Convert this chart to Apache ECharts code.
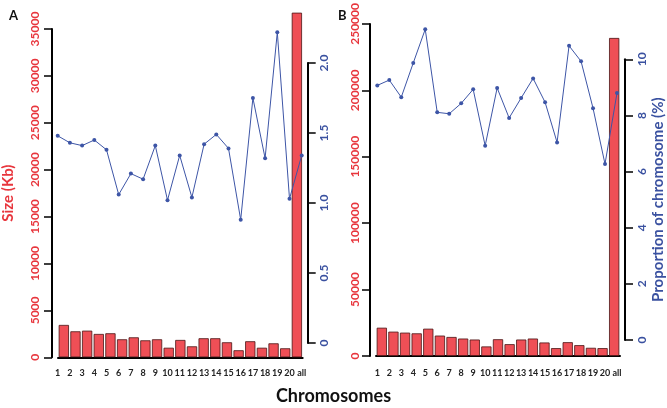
<!DOCTYPE html>
<html><head><meta charset="utf-8">
<script src="https://cdn.jsdelivr.net/npm/echarts@6/dist/echarts.min.js"></script>
<style>html,body{margin:0;padding:0;background:#fff}#c{width:667px;height:408px}</style>
</head><body><div id="c"></div>
<script>
const categories = ['1','2','3','4','5','6','7','8','9','10','11','12','13','14','15','16','17','18','19','20','all'];
const sizeA = [3450, 2770, 2840, 2490, 2560, 1920, 2130, 1810, 1920, 1020, 1850, 1170, 2030, 2030, 1600, 750, 1710, 1020, 1490, 960, 36740];
const propA = [1.48, 1.43, 1.41, 1.45, 1.38, 1.06, 1.21, 1.17, 1.41, 1.02, 1.34, 1.04, 1.42, 1.49, 1.39, 0.88, 1.75, 1.32, 2.22, 1.03, 1.34];
const sizeB = [21290, 18320, 17580, 17060, 20550, 15360, 14320, 13130, 12390, 7200, 12610, 8900, 12390, 13130, 10160, 5930, 10390, 8160, 6160, 5930, 239400];
const propB = [9.07, 9.26, 8.65, 9.87, 11.07, 8.11, 8.06, 8.43, 8.93, 6.92, 8.98, 7.91, 8.62, 9.32, 8.47, 7.04, 10.48, 9.93, 8.26, 6.27, 8.80];
const ticksA = {max: 35000, interval: 5000};
const ticksAR = {max: 2.0, interval: 0.5};
const ticksB = {max: 250000, interval: 50000};
const ticksBR = {max: 10, interval: 2};

const RED = '#e8363d', BLUE = '#3a51a0', BAR = '#ef4f56', LINE = '#3d55a6';
const FONT = 'Lato';
const axLine = {show: true, lineStyle: {color: '#000', width: 2}};
const tick = {show: true, length: 8, lineStyle: {color: '#000', width: 1.5}};

function barX(grid) {
  return {type: 'category', gridIndex: grid, data: categories, boundaryGap: true,
    axisLine: axLine, axisTick: {show: false}, axisLabel: {show: false}, offset: 6};
}
function lineX(grid, margin) {
  return {type: 'category', gridIndex: grid, data: categories, boundaryGap: false,
    axisLine: {show: false}, axisTick: {show: false},
    axisLabel: {show: true, interval: 0, margin: margin, color: '#222', fontFamily: FONT, fontWeight: 'bold', fontSize: 9}};
}
const plain = v => String(v);
const option = {
  animation: false,
  textStyle: {fontFamily: FONT},
  title: [
    {text: 'A', left: 4, top: 4, textStyle: {fontSize: 13, fontWeight: 'bold', color: '#111', fontFamily: FONT}},
    {text: 'B', left: 333, top: 4, textStyle: {fontSize: 13, fontWeight: 'bold', color: '#111', fontFamily: FONT}},
    {text: 'Chromosomes', left: 'center', top: 382, textStyle: {fontSize: 18, fontWeight: 'bold', color: '#111', fontFamily: FONT}}
  ],
  grid: [
    {left: 57, top: 29, width: 245.7, height: 328.3},
    {left: 57.7, top: 63, width: 244, height: 280},
    {left: 376, top: 19, width: 244, height: 337},
    {left: 377.3, top: 59.3, width: 241.4, height: 280.7}
  ],
  xAxis: [barX(0), lineX(1, 26), barX(2), lineX(3, 29)],
  yAxis: [
    {type: 'value', gridIndex: 0, min: 0, max: ticksA.max, interval: ticksA.interval, position: 'left', offset: 6,
      splitLine: {show: false}, axisLine: axLine, axisTick: tick,
      axisLabel: {rotate: 90, margin: 11, color: RED, fontSize: 12, fontWeight: 'bold', fontFamily: FONT, formatter: plain},
      name: 'Size (Kb)', nameLocation: 'middle', nameRotate: 90, nameGap: 36,
      nameTextStyle: {color: RED, fontSize: 15, fontWeight: 'bold', fontFamily: FONT}},
    {type: 'value', gridIndex: 1, min: 0, max: ticksAR.max, interval: ticksAR.interval, position: 'right', offset: 6,
      splitLine: {show: false}, axisLine: axLine, axisTick: tick,
      axisLabel: {rotate: 90, margin: 10, color: BLUE, fontSize: 12, fontWeight: 'bold', fontFamily: FONT, formatter: v => v === 0 ? '0' : v.toFixed(1)}},
    {type: 'value', gridIndex: 2, min: 0, max: ticksB.max, interval: ticksB.interval, position: 'left', offset: 6,
      splitLine: {show: false}, axisLine: axLine, axisTick: tick,
      axisLabel: {rotate: 90, margin: 9, color: RED, fontSize: 12, fontWeight: 'bold', fontFamily: FONT, formatter: plain}},
    {type: 'value', gridIndex: 3, min: 0, max: ticksBR.max, interval: ticksBR.interval, position: 'right', offset: 8,
      splitLine: {show: false}, axisLine: axLine, axisTick: tick,
      axisLabel: {rotate: 90, margin: 11, color: BLUE, fontSize: 12, fontWeight: 'bold', fontFamily: FONT, formatter: plain},
      name: 'Proportion of chromosome (%)', nameLocation: 'middle', nameRotate: 90, nameGap: 26,
      nameTextStyle: {color: BLUE, fontSize: 15, fontWeight: 'bold', fontFamily: FONT}}
  ],
  series: [
    {type: 'bar', xAxisIndex: 0, yAxisIndex: 0, data: sizeA, clip: false, barCategoryGap: '12%',
      itemStyle: {color: BAR, borderColor: '#4a1515', borderWidth: 0.8}},
    {type: 'line', xAxisIndex: 1, yAxisIndex: 1, data: propA, clip: false, symbol: 'circle', symbolSize: 4,
      lineStyle: {color: LINE, width: 1}, itemStyle: {color: LINE}},
    {type: 'bar', xAxisIndex: 2, yAxisIndex: 2, data: sizeB, clip: false, barCategoryGap: '12%',
      itemStyle: {color: BAR, borderColor: '#4a1515', borderWidth: 0.8}},
    {type: 'line', xAxisIndex: 3, yAxisIndex: 3, data: propB, clip: false, symbol: 'circle', symbolSize: 4,
      lineStyle: {color: LINE, width: 1}, itemStyle: {color: LINE}}
  ]
};
const chart = echarts.init(document.getElementById('c'), null, {renderer: 'canvas'});
chart.setOption(option);
</script></body></html>
